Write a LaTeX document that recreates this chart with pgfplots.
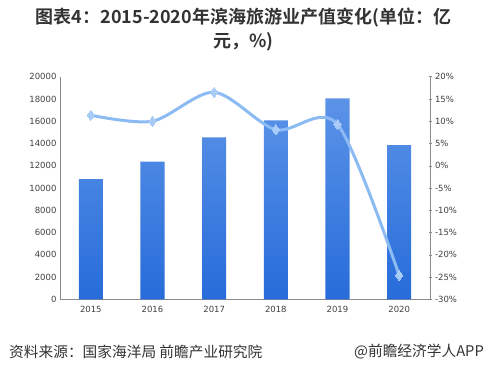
\documentclass[border=0pt]{standalone}
\usepackage{fontspec}
\usepackage{pgfplots}
\pgfplotsset{compat=1.18}
\setmainfont{DejaVu Sans}
\newfontfamily\cjk[BoldFont={Noto Sans CJK SC Bold}]{Noto Sans CJK SC}
\definecolor{bartop}{HTML}{5B93E7}
\definecolor{barbot}{HTML}{276CDA}
\definecolor{linec}{HTML}{8CBBF3}
\definecolor{markc}{HTML}{A9CCF6}
\definecolor{axisc}{HTML}{8C8C8C}
\definecolor{tickc}{HTML}{404040}
\definecolor{titlec}{HTML}{333333}
\begin{document}
\begin{tikzpicture}
\useasboundingbox (0pt,0pt) rectangle (489pt,371pt);
\node[font={\cjk\bfseries\fontsize{18}{21}\selectfont}, text=titlec] at (243.5pt,353.5pt) {图表4：2015-2020年滨海旅游业产值变化(单位：亿};
\node[font={\cjk\bfseries\fontsize{18}{21}\selectfont}, text=titlec] at (243.5pt,329pt) {元，\%)};
\node[font={\cjk\fontsize{14.7}{17}\selectfont}, text=titlec, anchor=west, inner sep=0pt] at (9pt,19pt) {资料来源：国家海洋局 前瞻产业研究院};
\node[font={\cjk\fontsize{14.7}{17}\selectfont}, text=titlec, anchor=east, inner sep=0pt] at (484pt,19pt) {@前瞻经济学人APP};
\begin{axis}[
  at={(60pt,71.7pt)}, anchor=south west,
  scale only axis, width=370pt, height=222.6pt,
  xmin=-0.5, xmax=5.5, ymin=0, ymax=20000,
  axis x line=bottom, axis y line=left,
  axis line style={axisc, -},
  xtick={0,1,2,3,4,5},
  xticklabels={2015,2016,2017,2018,2019,2020},
  ytick={0,2000,...,20000},
  major tick length=0pt,
  tick style={draw=none},
  ticklabel style={font=\fontsize{8.5}{10}\selectfont, text=tickc},
  /pgf/number format/assume math mode=true,
  scaled y ticks=false,
  yticklabel style={/pgf/number format/set thousands separator={}},
  xticklabel style={yshift=-3pt},
]
\addplot[ybar, bar width=0.39, draw=none, top color=bartop, bottom color=barbot]
  coordinates {(0,10808) (1,12363) (2,14555) (3,16083) (4,18059) (5,13863)};
\end{axis}
\begin{axis}[
  at={(60pt,71.7pt)}, anchor=south west,
  scale only axis, width=370pt, height=222.6pt,
  xmin=-0.5, xmax=5.5, ymin=-30, ymax=20,
  axis x line=none, axis y line=right,
  axis line style={axisc, -},
  ytick={-30,-25,...,20},
  ytick style={axisc, thin},
  major tick length=3pt,
  yticklabel={\pgfmathprintnumber{\tick}\%},
  ticklabel style={font=\fontsize{8.5}{10}\selectfont, text=tickc},
  /pgf/number format/assume math mode=true,
]
\addplot[smooth, color=linec, line width=3pt, mark=diamond*,
  mark size=5pt, mark options={fill=markc, draw=markc, line width=0pt}]
  coordinates {(0,11.35) (1,10.0) (2,16.5) (3,8.1) (4,9.3) (5,-24.6)};
\end{axis}
\end{tikzpicture}
\end{document}
